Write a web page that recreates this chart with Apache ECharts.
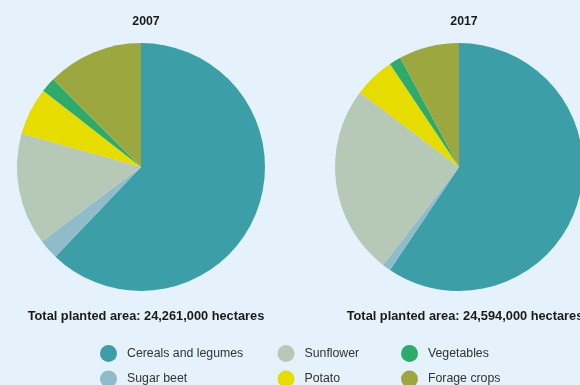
<!DOCTYPE html>
<html>
<head>
<meta charset="utf-8">
<script src="https://cdn.jsdelivr.net/npm/echarts@6/dist/echarts.min.js"></script>
<style>
  html, body { margin: 0; padding: 0; background: #e5f2fb; }
  #chart { width: 580px; height: 385px; }
</style>
</head>
<body>
<div id="chart"></div>
<script>
// Crop groups, in slice order (clockwise from 12 o'clock)
const crops = ['Cereals and legumes', 'Sugar beet', 'Sunflower', 'Potato', 'Vegetables', 'Forage crops'];
const cropColors = ['#3c9fa8', '#8fbcc8', '#b6c9b6', '#e6dc00', '#2eaa6a', '#9ca83f'];

// Share of total planted area, %
const share2007 = [62.1, 2.6, 14.6, 6.2, 1.95, 12.5];
const share2017 = [59.4, 1.1, 24.75, 5.35, 1.55, 7.85];

const years = ['2007', '2017'];
const totals = ['Total planted area: 24,261,000 hectares', 'Total planted area: 24,594,000 hectares'];

const pieCenters = [[141, 167], [459, 167]];
const font = '"Liberation Sans", Arial, sans-serif';

// Legend grid: three columns, two rows (Cereals/Sugar beet, Sunflower/Potato, Vegetables/Forage)
const legendCols = [100, 277.5, 401];
const legendRows = [345, 370.5];

function pieSeries(values, center) {
  return {
    type: 'pie',
    center: center,
    radius: 124,
    startAngle: 90,
    clockwise: true,
    silent: true,
    label: { show: false },
    labelLine: { show: false },
    itemStyle: { borderWidth: 0 },
    data: crops.map((name, i) => ({ name: name, value: values[i], itemStyle: { color: cropColors[i] } }))
  };
}

function legendItem(i) {
  const col = Math.floor(i / 2), row = i % 2;
  return {
    left: legendCols[col],
    top: legendRows[row],
    padding: 0,
    icon: 'circle',
    itemWidth: 17,
    itemHeight: 17,
    selectedMode: false,
    data: [crops[i]],
    textStyle: { fontFamily: font, fontSize: 12.3, color: '#333', padding: [0, 0, 0, 5] }
  };
}

const chart = echarts.init(document.getElementById('chart'), null, { renderer: 'canvas' });
chart.setOption({
  backgroundColor: '#e5f2fb',
  animation: false,
  color: cropColors,
  title: [
    { text: years[0], left: pieCenters[0][0], top: 10.5, textAlign: 'center',
      textStyle: { fontFamily: font, fontSize: 12.3, fontWeight: 'bold', color: '#1a1a1a' } },
    { text: years[1], left: pieCenters[1][0], top: 10.5, textAlign: 'center',
      textStyle: { fontFamily: font, fontSize: 12.3, fontWeight: 'bold', color: '#1a1a1a' } },
    { text: totals[0], left: pieCenters[0][0], top: 305, textAlign: 'center',
      textStyle: { fontFamily: font, fontSize: 12.8, fontWeight: 'bold', color: '#1a1a1a' } },
    { text: totals[1], left: pieCenters[1][0] + 1, top: 305, textAlign: 'center',
      textStyle: { fontFamily: font, fontSize: 12.8, fontWeight: 'bold', color: '#1a1a1a' } }
  ],
  legend: crops.map((_, i) => legendItem(i)),
  series: [
    pieSeries(share2007, pieCenters[0]),
    pieSeries(share2017, pieCenters[1])
  ]
});
</script>
</body>
</html>
